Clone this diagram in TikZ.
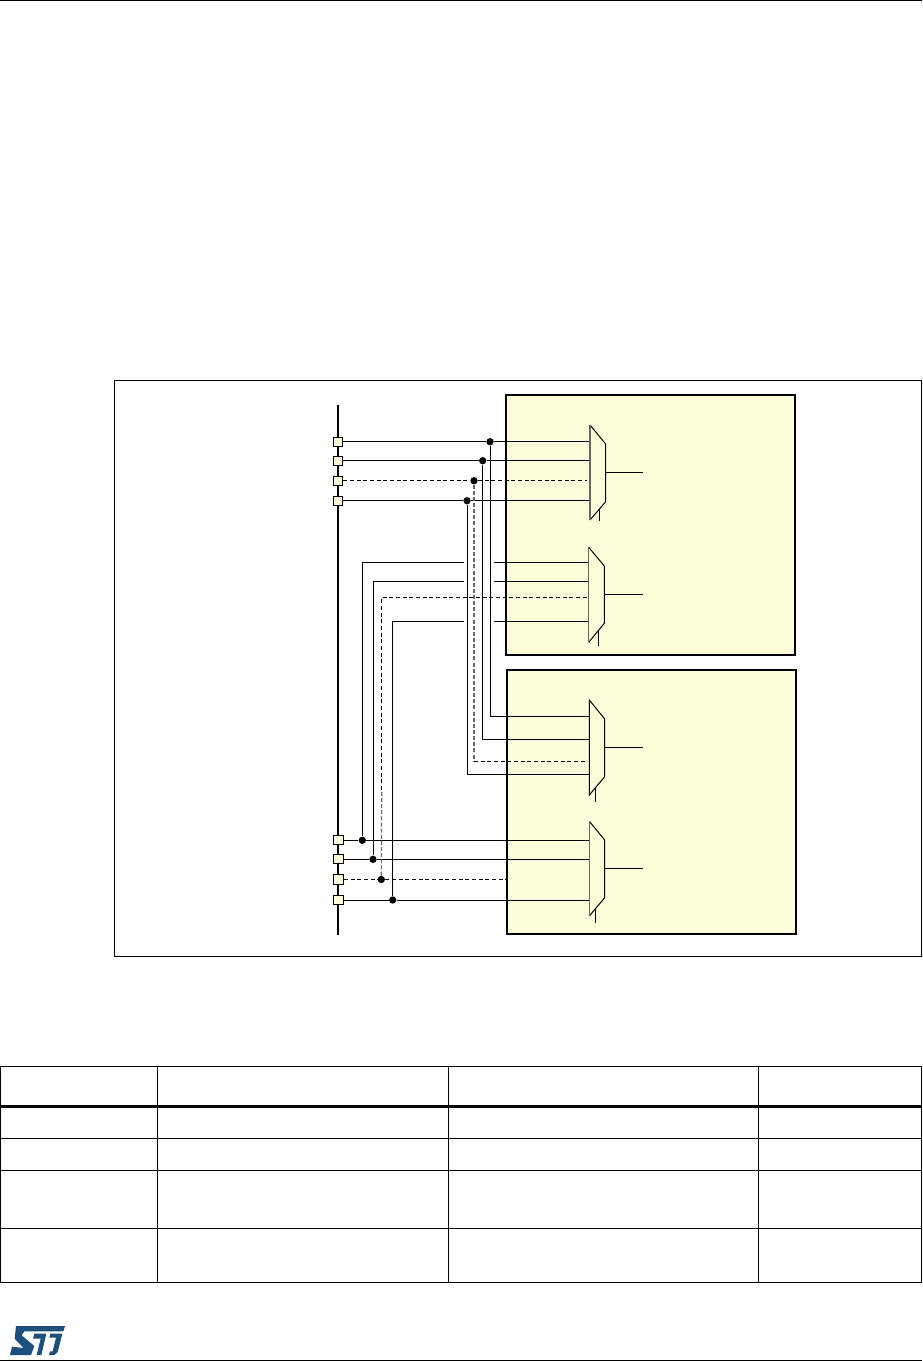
\documentclass[tikz,border=0pt]{standalone}
\definecolor{boxyellow}{RGB}{255,252,217}
\definecolor{stblue}{RGB}{29,79,124}
\definecolor{dashgrey}{RGB}{105,105,105}
\tikzset{
  pagerule/.style={line width=0.9pt,black},
  thinline/.style={line width=0.75pt,black},
  dashline/.style={line width=0.75pt,black,dash pattern=on 3pt off 2pt},
  greydash/.style={line width=0.9pt,dashgrey,dash pattern=on 3pt off 1.6pt},
  buswire/.style={line width=1.5pt,black},
  yellowblock/.style={line width=1.6pt,black,fill=boxyellow},
  portbox/.style={draw=black,line width=0.75pt,fill=boxyellow,rectangle,inner sep=0pt,minimum width=7.4pt,minimum height=7pt},
  joint/.style={circle,fill=black,inner sep=0pt,minimum size=5.5pt},
  muxbody/.style={fill=boxyellow,draw=none},
  muxedge/.style={line width=0.75pt,black},
  muxleft/.style={line width=0.9pt,black!60},
  tablerule/.style={line width=0.75pt,black},
  tablethick/.style={line width=2pt,black}
}
\begin{document}
\begin{tikzpicture}[x=0.75pt,y=-0.75pt]
\useasboundingbox (0,0) rectangle (922,1361);
% page rules
\draw[pagerule] (0,0.7) -- (922,0.7);
\draw[pagerule] (0,1360.2) -- (922,1360.2);
% outer frame
\draw[thinline] (114.4,380.4) rectangle (921.6,956.2);
% blocks
\draw[yellowblock] (506,395) rectangle (795,655);
\draw[yellowblock] (507,670) rectangle (796,933.6);
% bus
\draw[buswire] (338,405) -- (338,935);
% ports
\node[portbox] (p1) at (338,441.7) {};
\node[portbox] (p2) at (338,460.7) {};
\node[portbox] (p3) at (338,480.7) {};
\node[portbox] (p4) at (338,500.7) {};
\node[portbox] (p5) at (338.5,840.3) {};
\node[portbox] (p6) at (338.5,859.3) {};
\node[portbox] (p7) at (338.5,879.5) {};
\node[portbox] (p8) at (338.5,900) {};
% junctions
\node[joint] (j1) at (490,441.7) {};
\node[joint] (j2) at (482.7,460.7) {};
\node[joint] (j3) at (474,480.7) {};
\node[joint] (j4) at (467,500.7) {};
\node[joint] (j5) at (362.3,840.3) {};
\node[joint] (j6) at (373,859.3) {};
\node[joint] (j7) at (381.3,879.5) {};
\node[joint] (j8) at (392.7,900) {};
% mux input points
\coordinate (a1) at (590,441.7);
\coordinate (a2) at (590,460.7);
\coordinate (a3) at (587,480.7);
\coordinate (a4) at (590,500.7);
\coordinate (b1) at (589,562.3);
\coordinate (b2) at (589,581.3);
\coordinate (b3) at (587,597.7);
\coordinate (b4) at (589,621.3);
\coordinate (c1) at (589.5,716.3);
\coordinate (c2) at (589.5,739.3);
\coordinate (c3) at (587,761);
\coordinate (c4) at (589.5,774.7);
\coordinate (d1) at (589.5,840.3);
\coordinate (d2) at (589.5,859.3);
\coordinate (d3) at (506.7,879.5);
\coordinate (d4) at (589.5,900);
% gap ends of the wires that pass behind the vertical run
\coordinate (g1l) at (464,562.3);
\coordinate (g1r) at (493.7,562.3);
\coordinate (g2l) at (464,581.3);
\coordinate (g2r) at (493.7,581.3);
\coordinate (g4l) at (464,621.3);
\coordinate (g4r) at (493.7,621.3);
% horizontal wires from ports
\draw[thinline] (p1) -- (j1) -- (a1);
\draw[thinline] (p2) -- (j2) -- (a2);
\draw[dashline] (p3) -- (j3) -- (a3);
\draw[thinline] (p4) -- (j4) -- (a4);
\draw[thinline] (p5) -- (j5) -- (d1);
\draw[thinline] (p6) -- (j6) -- (d2);
\draw[dashline] (p7) -- (j7) -- (d3);
\draw[thinline] (p8) -- (j8) -- (d4);
% wires to the lower mux
\draw[thinline] (j1) |- (c1);
\draw[thinline] (j2) |- (c2);
\draw[greydash] (j3) -- (j3 |- c3);
\draw[dashline] (j3 |- c3) -- (c3);
\draw[thinline] (j4) |- (c4);
% wires to the second mux
\draw[thinline] (j5) |- (g1l);
\draw[thinline] (g1r) -- (b1);
\draw[thinline] (j6) |- (g2l);
\draw[thinline] (g2r) -- (b2);
\coordinate (dashbend) at (381.7,790);
\draw[greydash] (j7) -- (dashbend);
\draw[dashline] (dashbend) |- (b3);
\draw[thinline] (j8) |- (g4l);
\draw[thinline] (g4r) -- (b4);
% muxes
\coordinate (m1tl) at (590,425);\coordinate (m1tr) at (605.7,444);\coordinate (m1br) at (605.7,501.7);\coordinate (m1bl) at (590,520);
\fill[muxbody] (m1tl) -- (m1tr) -- (m1br) -- (m1bl) -- cycle;
\draw[muxedge] (m1bl) -- (m1br) -- (m1tr) -- (m1tl);
\draw[muxleft] (m1tl) -- (m1bl);
\coordinate (m2tl) at (588.7,547.3);\coordinate (m2tr) at (604.3,566);\coordinate (m2br) at (604.3,623.3);\coordinate (m2bl) at (588.7,642.3);
\fill[muxbody] (m2tl) -- (m2tr) -- (m2br) -- (m2bl) -- cycle;
\draw[muxedge] (m2bl) -- (m2br) -- (m2tr) -- (m2tl);
\draw[muxleft] (m2tl) -- (m2bl);
\coordinate (m3tl) at (589.3,700);\coordinate (m3tr) at (604.7,719);\coordinate (m3br) at (604.7,776.7);\coordinate (m3bl) at (589.3,795);
\fill[muxbody] (m3tl) -- (m3tr) -- (m3br) -- (m3bl) -- cycle;
\draw[muxedge] (m3bl) -- (m3br) -- (m3tr) -- (m3tl) -- cycle;
\coordinate (m4tl) at (589.3,821.3);\coordinate (m4tr) at (604.7,840);\coordinate (m4br) at (604.7,897.7);\coordinate (m4bl) at (589.3,916);
\fill[muxbody] (m4tl) -- (m4tr) -- (m4br) -- (m4bl) -- cycle;
\draw[muxedge] (m4bl) -- (m4br) -- (m4tr) -- (m4tl);
\draw[muxleft] (m4tl) -- (m4bl);
% mux outputs
\coordinate (o1) at (643,472.3);
\coordinate (o2) at (643,594.3);
\coordinate (o3) at (643,747.3);
\coordinate (o4) at (643,868.3);
\draw[thinline] (m1tr |- o1) -- (o1);
\draw[thinline] (m2tr |- o2) -- (o2);
\draw[thinline] (m3tr |- o3) -- (o3);
\draw[thinline] (m4tr |- o4) -- (o4);
% select stubs
\draw[thinline] (599.3,509.2) -- (599.3,520.7);
\draw[thinline] (598,631) -- (598,646);
\draw[thinline] (595.3,787.9) -- (595.3,801.7);
\draw[thinline] (595.3,908.9) -- (595.3,923.3);
% table
\draw[tablerule] (0.7,1066.3) -- (922,1066.3);
\draw[tablethick] (0,1106.3) -- (922,1106.3);
\draw[tablerule] (0,1138.3) -- (922,1138.3);
\draw[tablerule] (0,1170.3) -- (922,1170.3);
\draw[tablerule] (0,1228.3) -- (922,1228.3);
\draw[tablerule] (0,1282.3) -- (922,1282.3);
\draw[tablerule] (0.7,1066.3) -- (0.7,1282.3);
\draw[tablerule] (157.4,1066.3) -- (157.4,1282.3);
\draw[tablerule] (448.8,1066.3) -- (448.8,1282.3);
\draw[tablerule] (758.8,1066.3) -- (758.8,1282.3);
\draw[tablerule] (921.5,1066.3) -- (921.5,1282.3);
% logo (S, T and the right-hand stroke)
\begin{scope}[shift={(5,1322)},x=0.25pt,y=-0.25pt]
\fill[stblue] (33,12) -- (180,12) -- (175,28) -- (58,28) -- (50,40) -- (88,72) -- (78,99) -- (15,99) -- (21,74) -- (56,78) -- (29,50) -- cycle;
\fill[stblue] (88,35) -- (124,35) -- (109,99) -- (95,99) -- (107,50) -- (84,50) -- cycle;
\fill[stblue] (136,35) -- (172,35) -- (158,90) -- (148,99) -- (132,99) -- (135,88) -- (143,88) -- (153,47) -- (133,47) -- cycle;
\end{scope}
\end{tikzpicture}
\end{document}
